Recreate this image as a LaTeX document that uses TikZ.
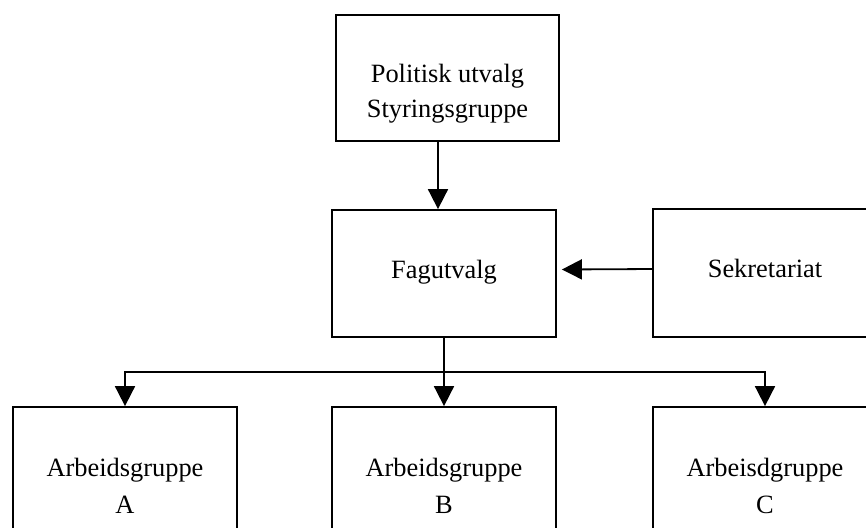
\documentclass[tikz,border=0pt]{standalone}
\usepackage{fontspec}
\setmainfont{Liberation Serif}
\usetikzlibrary{arrows.meta}
\begin{document}
\begin{tikzpicture}[x=0.5pt,y=-0.5pt,
  box/.style={draw,line width=0.9pt,minimum width=112pt,inner sep=0pt},
  lbl/.style={inner sep=0pt,align=center,font=\fontsize{13.2pt}{17.5pt}\selectfont},
  lblb/.style={inner sep=0pt,align=center,font=\fontsize{13.2pt}{18.5pt}\selectfont},
  arr/.style={line width=0.9pt,-{Triangle[length=10pt,width=10pt]}},
  conn/.style={line width=0.9pt}]
\useasboundingbox (0,0) rectangle (866,527);
\clip (0,0) rectangle (866,527);
% boxes
\node[box,minimum width=111.5pt,minimum height=63pt] (top) at (447.5,78) {};
\node[box,minimum height=63.5pt] (fag) at (444,273.5) {};
\node[box,minimum height=64pt] (sek) at (765,273) {};
\node[box,minimum height=70pt] (A) at (125,477) {};
\node[box,minimum height=70pt] (B) at (444,477) {};
\node[box,minimum height=70pt] (C) at (765,477) {};
% texts
\node[lbl] (toptext) at (447.5,94) {Politisk utvalg\\Styringsgruppe};
\node[lbl] (fagtext) at (444,272) {Fagutvalg};
\node[lbl] (sektext) at (765,268.5) {Sekretariat};
\node[lblb] (atext) at (125,485.5) {Arbeidsgruppe\\A};
\node[lblb] (btext) at (444,485.5) {Arbeidsgruppe\\B};
\node[lblb] (ctext) at (765,485.5) {Arbeisdgruppe\\C};
% connectors
\draw[arr] ([xshift=-4.75pt]top.south) -- ([xshift=-4.75pt]top.south |- fag.north);
\draw[arr] ([yshift=2pt]sek.west) -- ([xshift=2.5pt,yshift=2pt]fag.east);
\coordinate (bus) at (444,372);
\draw[conn] (fag.south) -- (bus);
\draw[arr] (bus) -- (B.north);
\draw[arr] (bus) -| (A.north);
\draw[arr] (bus) -| (C.north);
\end{tikzpicture}
\end{document}
